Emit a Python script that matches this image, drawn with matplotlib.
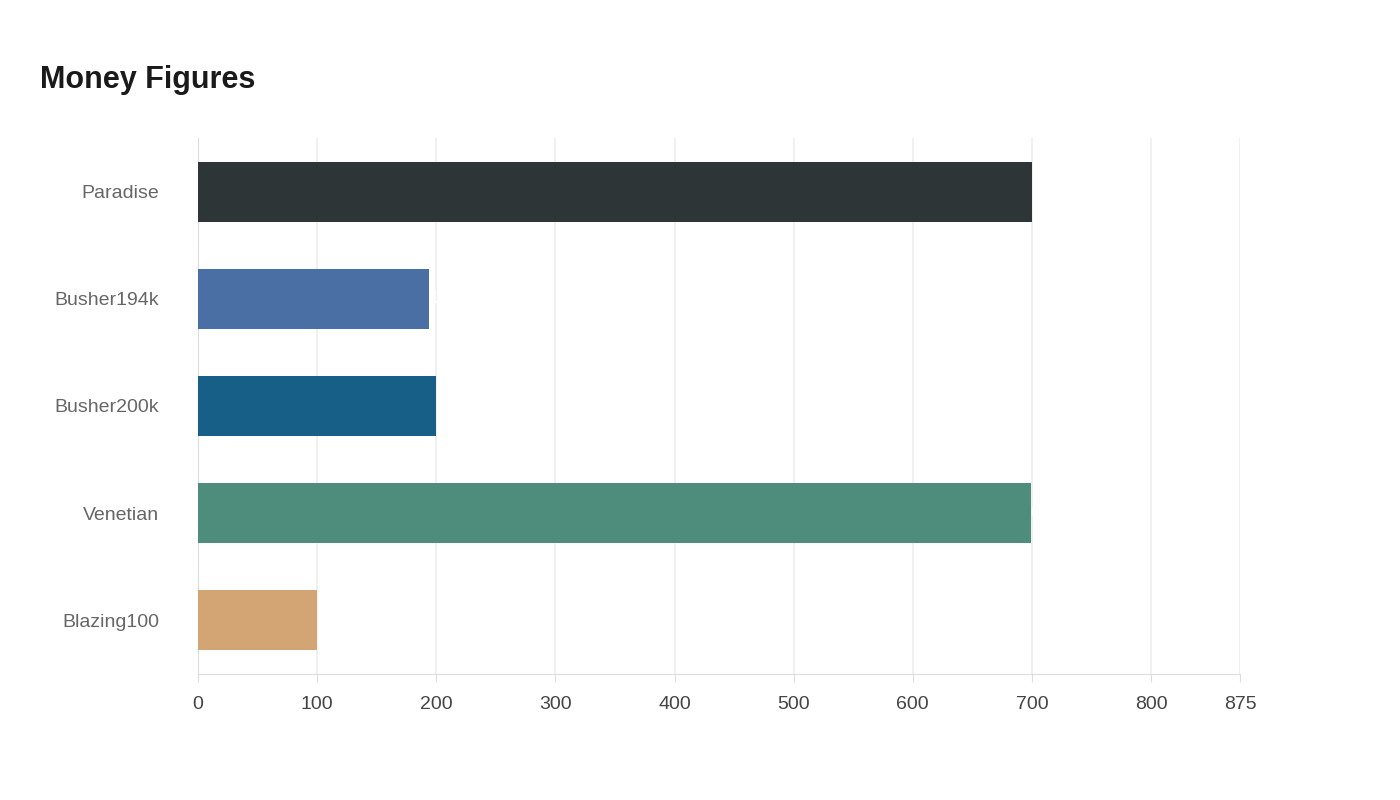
import matplotlib.pyplot as plt

# datos
nombres = ["Paradise", "Busher194k", "Busher200k", "Venetian", "Blazing100"]
valores = [700, 194, 200, 699, 100]
colores = ["#2d3537", "#4a6fa5", "#175f87", "#4e8c7c", "#d4a574"]
ticks = [0, 100, 200, 300, 400, 500, 600, 700, 800, 875]

plt.rcParams['font.family'] = ['Liberation Sans', 'DejaVu Sans']
fig = plt.figure(figsize=(14, 8), dpi=100)
ax = fig.add_axes([0.1414, 0.1575, 0.7446, 0.67])

pos = list(range(len(nombres)))[::-1]
ax.barh(pos, valores, height=0.56, color=colores, zorder=3)
for p, v in zip(pos, valores):
    ax.text(v, p, str(v), color="white", fontsize=13, fontweight="bold",
            va="center", ha="left", zorder=4)

ax.set_xlim(0, 875)
ax.set_ylim(-0.5, 4.5)
ax.set_xticks(ticks)
ax.set_yticks(pos)
ax.set_yticklabels(nombres)
ax.tick_params(axis="y", length=0, pad=28, labelsize=14, labelcolor="#666666")
ax.tick_params(axis="x", length=6, color="#dddddd", pad=10, labelsize=14, labelcolor="#444444")
ax.grid(axis="x", color="#eeeeee", linewidth=1.2, zorder=0)
for s in ["top", "right"]:
    ax.spines[s].set_visible(False)
ax.spines["left"].set_color("#dddddd")
ax.spines["bottom"].set_color("#dddddd")

fig.text(40 / 1400, 1 - 80 / 800, "Money Figures", fontsize=22, fontweight="bold",
         color="#1a1a1a", va="center")

fig.savefig("out.png")
